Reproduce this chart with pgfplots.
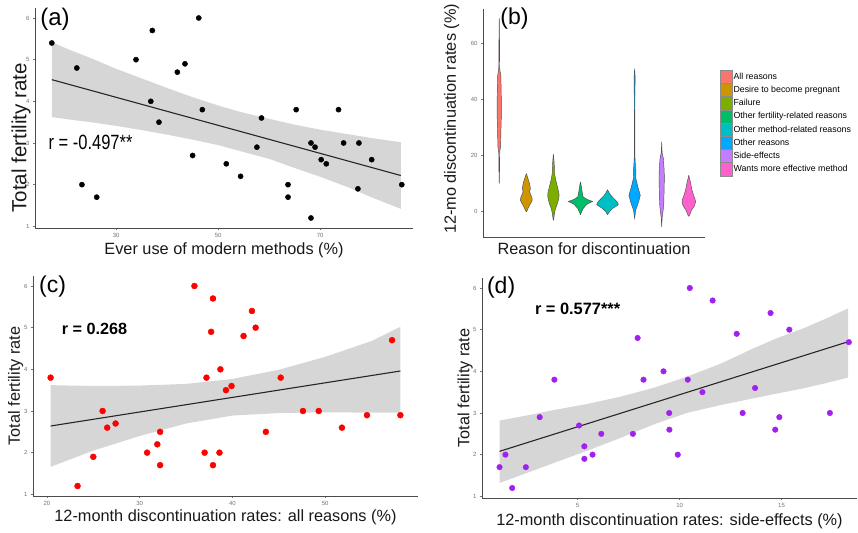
\documentclass[border=0pt]{standalone}
\usepackage{fontspec}
\setmainfont{Liberation Sans}
\usepackage{graphicx}
\usepackage{pgfplots}
\pgfplotsset{compat=1.18}

% ggplot hue palette
\definecolor{c1}{HTML}{F8766D}
\definecolor{c2}{HTML}{CD9600}
\definecolor{c3}{HTML}{7CAE00}
\definecolor{c4}{HTML}{00BE67}
\definecolor{c5}{HTML}{00BFC4}
\definecolor{c6}{HTML}{00A9FF}
\definecolor{c7}{HTML}{C77CFF}
\definecolor{c8}{HTML}{FF61CC}
\definecolor{ptred}{HTML}{FF0000}
\definecolor{ptpurple}{HTML}{A020F0}
\definecolor{outl}{HTML}{4D4D4D}

\pgfplotsset{
  gg/.style={
    scale only axis,
    clip=false,
    axis lines=left,
    axis line style={-, draw=black!70, line width=0.8pt},
    tick style={draw=black!55, line width=0.5pt},
    tick align=outside,
    major tick length=2pt,
    ticklabel style={font=\fontsize{6}{6}\selectfont, text=black!55},
    /pgf/number format/assume math mode=true,
    label style={font=\fontsize{16.3}{17}\selectfont, text=black!90},
  },
  band/.style={fill=black!40, fill opacity=0.4, draw=none},
  fit/.style={black!85, line width=1.1pt},
  violin/.style={draw=outl, line width=0.45pt},
  dots/.style={only marks, mark=*, mark size=#1},
}

\begin{document}
\begin{tikzpicture}
\path[use as bounding box] (0,0) rectangle (858pt,532pt);

% (a)
\begin{axis}[gg,
  at={(35pt,304pt)}, anchor=south west,
  width=378pt, height=220pt,
  xmin=14.1, xmax=88.2, ymin=0.96, ymax=6.24,
  xtick={30,50,70}, ytick={1,2,3,4,5,6},
  xlabel={Ever use of modern methods (\%)},
  ylabel={Total fertility rate},
  xlabel style={at={(axis description cs:0.5,-0.10)}, anchor=center},
  ylabel style={at={(axis description cs:-0.037,0.41)}, anchor=center, font=\fontsize{20.5}{21}\selectfont},
]
\addplot[dots=2.6pt, color=black] coordinates {
(17.4,5.4)(22.3,4.8)(23.3,2.0)(26.2,1.7)(33.9,5.0)(36.8,4.0)(37.1,5.7)(38.4,3.5)
(42.0,4.7)(43.5,4.9)(45.0,2.7)(46.2,6.0)(46.9,3.8)(51.6,2.5)(54.4,2.2)(57.6,2.9)
(58.5,3.6)(63.7,2.0)(63.7,1.7)(65.3,3.8)(68.2,3.0)(68.2,1.2)(69.0,2.9)(70.2,2.6)
(71.2,2.5)(73.6,3.8)(74.6,3.0)(77.4,1.9)(77.6,3.0)(80.1,2.6)(86.0,2.0)
};
\addplot[band] coordinates {
(17.4,5.42)(21,5.23)(25,5.04)(30,4.78)(35,4.55)(40,4.32)(45,4.10)(50,3.90)(54.5,3.74)
(60,3.58)(65,3.44)(70,3.32)(75,3.22)(80,3.12)(85.8,3.02)
(85.8,1.42)(80,1.70)(75,1.96)(70,2.19)(65,2.40)(60,2.62)(54.5,2.80)(50,2.95)(45,3.08)
(40,3.20)(35,3.31)(30,3.41)(25,3.50)(21,3.56)(17.4,3.62)
} -- cycle;
\addplot[fit] coordinates {(17.4,4.52)(85.8,2.22)};
\node[font=\fontsize{24}{24}\selectfont] at (axis description cs:0.053,0.948) {(a)};
\node[font=\fontsize{16.5}{17}\selectfont] at (axis description cs:0.147,0.389) {\scalebox{1}[1.25]{r = -0.497**}};
\end{axis}

% (b)
\begin{axis}[gg,
  at={(483pt,294.5pt)}, anchor=south west,
  width=222pt, height=228pt,
  xmin=0.4, xmax=8.6, ymin=-9.4, ymax=72.2,
  xtick=\empty, ytick={0,20,40,60},
  xlabel={Reason for discontinuation},
  ylabel={12-mo discontinuation rates (\%)},
  xlabel style={at={(axis description cs:0.5,-0.05)}, anchor=center},
  ylabel style={at={(axis description cs:-0.141,0.52)}, anchor=center},
  legend style={at={(axis description cs:1.068,0.502)}, anchor=west,
    draw=none, fill=none, inner sep=0pt, row sep=-0.4pt,
    font=\fontsize{8.8}{9}\selectfont,
    nodes={inner sep=0pt}},
  legend cell align=left,
  legend image code/.code={\draw[#1, draw=black!45, line width=0.4pt] (0pt,-6.6pt) rectangle (11.7pt,6.6pt);},
  /tikz/every odd column/.append style={column sep=1.2pt},
]
\addplot[violin, fill=c1] coordinates {
(1,69.2)(1.012,60)(1.02,50.5)(1.055,49)(1.07,44)(1.08,38)(1.075,33)(1.06,28)(1.05,23)(1.02,21.5)(1.012,15)(1,9.9)
(0.988,15)(0.98,21.5)(0.95,23)(0.94,28)(0.925,33)(0.92,38)(0.93,44)(0.945,49)(0.98,50.5)(0.988,60)(1,69.2)
};
\addlegendentry{All reasons}
\addplot[violin, fill=c2, smooth] coordinates {
(2,13.5)(2.05,12)(2.10,10.5)(2.15,8.1)(2.12,7)(2.18,5.5)(2.22,4)(2.14,2.5)(2.07,1.2)(2,-0.2)
(1.93,1.2)(1.86,2.5)(1.78,4)(1.82,5.5)(1.88,7)(1.85,8.1)(1.90,10.5)(1.95,12)(2,13.5)
};
\addlegendentry{Desire to become pregnant}
\addplot[violin, fill=c3, smooth] coordinates {
(3,20.5)(3.03,17)(3.045,13.5)(3.09,11)(3.15,8.7)(3.21,5.7)(3.15,2.8)(3.08,1)(3.04,-0.8)(3,-3.2)
(2.96,-0.8)(2.92,1)(2.85,2.8)(2.79,5.7)(2.85,8.7)(2.91,11)(2.955,13.5)(2.97,17)(3,20.5)
};
\addlegendentry{Failure}
\addplot[violin, fill=c4] coordinates {
(4,10.5)(4.04,8.5)(4.06,7)(4.10,5.1)(4.25,4.2)(4.45,3.5)(4.25,2.6)(4.10,1)(4,-1.2)
(3.90,1)(3.75,2.6)(3.55,3.5)(3.75,4.2)(3.90,5.1)(3.94,7)(3.96,8.5)(4,10.5)
};
\addlegendentry{Other fertility-related reasons}
\addplot[violin, fill=c5, smooth] coordinates {
(5,7.7)(5.05,6.8)(5.12,5.7)(5.27,4.2)(5.40,2.5)(5.19,1)(5.06,-0.3)(5,-1.2)
(4.94,-0.3)(4.81,1)(4.60,2.5)(4.73,4.2)(4.88,5.7)(4.95,6.8)(5,7.7)
};
\addlegendentry{Other method-related reasons}
\addplot[violin, fill=c6] coordinates {
(6,51)(6.02,48)(6.015,45)(6.01,20)(6.03,16)(6.05,14.5)(6.04,12)(6.12,8.7)(6.21,5.7)(6.15,3.4)(6.04,0.4)(6,-2.6)
(5.96,0.4)(5.85,3.4)(5.79,5.7)(5.88,8.7)(5.96,12)(5.95,14.5)(5.97,16)(5.99,20)(5.985,45)(5.98,48)(6,51)
};
\addlegendentry{Other reasons}
\addplot[violin, fill=c7] coordinates {
(7,24.8)(7.015,21)(7.06,19)(7.09,15)(7.10,12)(7.09,8)(7.08,3)(7.05,0)(7.02,-2)(7,-5.6)
(6.98,-2)(6.95,0)(6.92,3)(6.91,8)(6.90,12)(6.91,15)(6.94,19)(6.985,21)(7,24.8)
};
\addlegendentry{Side-effects}
\addplot[violin, fill=c8, smooth] coordinates {
(8,12.9)(8.03,11.5)(8.06,10.5)(8.12,7.5)(8.20,5.1)(8.25,3.4)(8.19,1.6)(8.10,0.4)(8,-1.8)
(7.90,0.4)(7.81,1.6)(7.75,3.4)(7.80,5.1)(7.88,7.5)(7.94,10.5)(7.97,11.5)(8,12.9)
};
\addlegendentry{Wants more effective method}
\node[font=\fontsize{23}{23}\selectfont] at (axis description cs:0.142,0.96) {(b)};
\end{axis}

% (c)
\begin{axis}[gg,
  at={(33pt,36pt)}, anchor=south west,
  width=385pt, height=220pt,
  xmin=18.5, xmax=60, ymin=0.96, ymax=6.24,
  xtick={20,30,40,50}, ytick={1,2,3,4,5,6},
  xlabel={12-month discontinuation rates: all reasons (\%)},
  ylabel={Total fertility rate},
  xlabel style={at={(axis description cs:0.5,-0.098)}, anchor=center},
  ylabel style={at={(axis description cs:-0.045,0.5)}, anchor=center},
]
\addplot[dots=3pt, color=ptred] coordinates {
(20.4,3.8)(23.3,1.2)(25.0,1.9)(26.0,3.0)(26.5,2.6)(27.4,2.7)(30.8,2.0)(31.9,2.2)
(32.2,2.5)(32.2,1.7)(35.9,6.0)(37.0,2.0)(37.2,3.8)(37.7,4.9)(37.9,5.7)(37.9,1.7)
(38.6,2.0)(38.7,4.0)(39.3,3.5)(39.9,3.6)(41.2,4.8)(42.1,5.4)(42.5,5.0)(43.6,2.5)
(45.2,3.8)(47.6,3.0)(49.3,3.0)(51.8,2.6)(54.5,2.9)(57.2,4.7)(58.1,2.9)
};
\addplot[band] coordinates {
(20.4,3.62)(25,3.60)(30,3.61)(35,3.65)(40,3.77)(45,3.99)(50,4.30)(55,4.68)(58.1,5.02)
(58.1,2.96)(55,2.96)(50,2.97)(45,2.95)(40,2.89)(35,2.70)(30,2.40)(25,2.05)(20.4,1.66)
} -- cycle;
\addplot[fit] coordinates {(20.4,2.64)(58.1,3.96)};
\node[font=\fontsize{23}{23}\selectfont] at (axis description cs:0.051,0.95) {(c)};
\node[font=\bfseries\fontsize{16.2}{17}\selectfont] at (axis description cs:0.16,0.759) {r = 0.268};
\end{axis}

% (d)
\begin{axis}[gg,
  at={(482pt,34pt)}, anchor=south west,
  width=375pt, height=220pt,
  xmin=0.31, xmax=18.7, ymin=0.96, ymax=6.24,
  xtick={5,10,15}, ytick={1,2,3,4,5,6},
  xlabel={12-month discontinuation rates: side-effects (\%)},
  ylabel={Total fertility rate},
  xlabel style={at={(axis description cs:0.5,-0.105)}, anchor=center},
  ylabel style={at={(axis description cs:-0.045,0.5)}, anchor=center},
]
\addplot[dots=2.8pt, color=ptpurple] coordinates {
(1.17,1.7)(1.46,2.0)(1.79,1.2)(2.46,1.7)(3.14,2.9)(3.86,3.8)(5.07,2.7)(5.33,2.2)
(5.33,1.9)(5.73,2.0)(6.16,2.5)(7.71,2.5)(7.94,4.8)(8.23,3.8)(9.21,4.0)(9.49,3.0)
(9.50,2.6)(9.91,2.0)(10.40,3.8)(10.50,6.0)(11.12,3.5)(11.62,5.7)(12.80,4.9)(13.09,3.0)
(13.70,3.6)(14.46,5.4)(14.69,2.6)(14.89,2.9)(15.38,5.0)(17.37,3.0)(18.30,4.7)
};
\addplot[band] coordinates {
(1.17,2.82)(2.5,2.94)(3.83,3.07)(5.5,3.22)(7.09,3.39)(8.7,3.60)(10.35,3.87)(12,4.18)
(13.61,4.55)(14.8,4.80)(16.06,5.03)(17.2,5.27)(18.26,5.51)
(18.26,3.85)(17.2,3.72)(16.06,3.59)(14.8,3.47)(13.61,3.35)(12,3.19)(10.35,3.00)
(8.7,2.72)(7.09,2.40)(5.5,2.10)(3.83,1.80)(2.5,1.56)(1.17,1.32)
} -- cycle;
\addplot[fit] coordinates {(1.17,2.08)(18.26,4.71)};
\node[font=\fontsize{23}{23}\selectfont] at (axis description cs:0.051,0.955) {(d)};
\node[font=\bfseries\fontsize{16.4}{17}\selectfont] at (axis description cs:0.255,0.859) {r = 0.577***};
\end{axis}
\end{tikzpicture}
\end{document}
